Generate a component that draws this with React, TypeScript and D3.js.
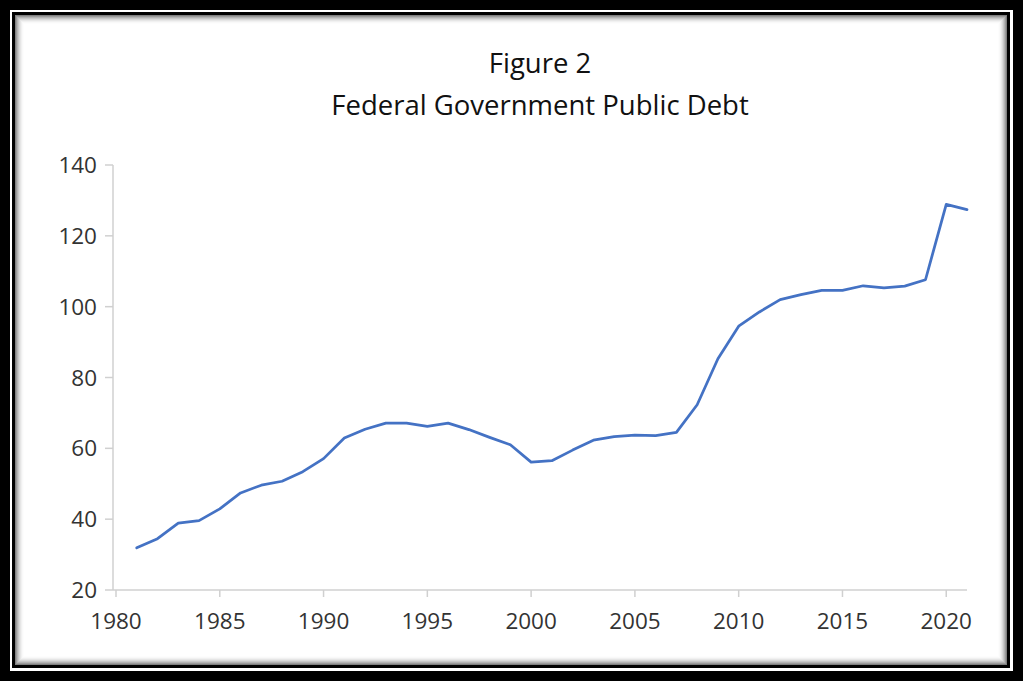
import React from "react";
import * as d3 from "d3";

const years: number[] = [
  1981, 1982, 1983, 1984, 1985, 1986, 1987, 1988, 1989, 1990,
  1991, 1992, 1993, 1994, 1995, 1996, 1997, 1998, 1999, 2000,
  2001, 2002, 2003, 2004, 2005, 2006, 2007, 2008, 2009, 2010,
  2011, 2012, 2013, 2014, 2015, 2016, 2017, 2018, 2019, 2020, 2021,
];
const debt: number[] = [
  31.9, 34.5, 38.9, 39.6, 42.9, 47.4, 49.6, 50.7, 53.4, 57.1,
  62.9, 65.4, 67.1, 67.1, 66.2, 67.1, 65.3, 63.1, 61.0, 56.1,
  56.5, 59.5, 62.3, 63.3, 63.7, 63.6, 64.5, 72.3, 85.3, 94.5,
  98.5, 102.0, 103.4, 104.6, 104.6, 105.9, 105.3, 105.8, 107.6, 128.9, 127.4,
];
const xTicks: number[] = [1980, 1985, 1990, 1995, 2000, 2005, 2010, 2015, 2020];
const yTicks: number[] = [20, 40, 60, 80, 100, 120, 140];
const titleLines: string[] = ["Figure 2", "Federal Government Public Debt"];

export default function App() {
  const W = 1023;
  const H = 681;
  const x = d3.scaleLinear().domain([1980, 2021]).range([116, 967]);
  const y = d3.scaleLinear().domain([20, 140]).range([590, 165]);
  const line = d3
    .line<number>()
    .x((_, i) => x(years[i]))
    .y((d) => y(d));
  const axisColor = "#d0d0d0";
  const font = "'Open Sans', sans-serif";
  const shadowSteps = d3.range(9);

  return (
    <svg
      width={W}
      height={H}
      style={{ position: "absolute", left: 0, top: 0, display: "block" }}
    >
      {/* frame */}
      <rect x={0} y={0} width={W} height={H} fill="#000" />
      <rect x={10} y={10} width={1003} height={661} fill="#fff" />
      <rect x={12} y={12} width={998} height={656} fill="#000" />
      <rect x={15} y={15} width={992} height={650} fill="#fff" />
      {shadowSteps.map((i) => (
        <rect
          key={i}
          x={15 + i + 0.5}
          y={15 + i + 0.5}
          width={992 - 2 * i - 1}
          height={650 - 2 * i - 1}
          fill="none"
          stroke="#000"
          strokeOpacity={0.5 * Math.pow(1 - i / 9, 2)}
        />
      ))}

      {/* title */}
      {titleLines.map((t, i) => (
        <text
          key={i}
          x={540}
          y={73 + i * 42}
          textAnchor="middle"
          fontFamily={font}
          fontSize={27.5}
          fill="#111"
        >
          {t}
        </text>
      ))}

      {/* axes */}
      <line x1={113} x2={113} y1={y(140)} y2={y(20)} stroke={axisColor} strokeWidth={1.5} />
      <line x1={113} x2={967} y1={y(20)} y2={y(20)} stroke={axisColor} strokeWidth={1.5} />
      {yTicks.map((v) => (
        <g key={v}>
          <line x1={105} x2={113} y1={y(v)} y2={y(v)} stroke={axisColor} strokeWidth={1.5} />
          <text
            x={97}
            y={y(v)}
            dy="0.36em"
            textAnchor="end"
            fontFamily={font}
            fontSize={22.5}
            fill="#333"
          >
            {v}
          </text>
        </g>
      ))}
      {xTicks.map((v) => (
        <g key={v}>
          <line x1={x(v)} x2={x(v)} y1={y(20)} y2={y(20) + 7} stroke={axisColor} strokeWidth={1.5} />
          <text
            x={x(v)}
            y={629}
            textAnchor="middle"
            fontFamily={font}
            fontSize={22.5}
            fill="#333"
          >
            {v}
          </text>
        </g>
      ))}

      {/* series */}
      <path
        d={line(debt) || ""}
        fill="none"
        stroke="#4472C4"
        strokeWidth={2.75}
        strokeLinejoin="round"
        strokeLinecap="round"
      />
    </svg>
  );
}
